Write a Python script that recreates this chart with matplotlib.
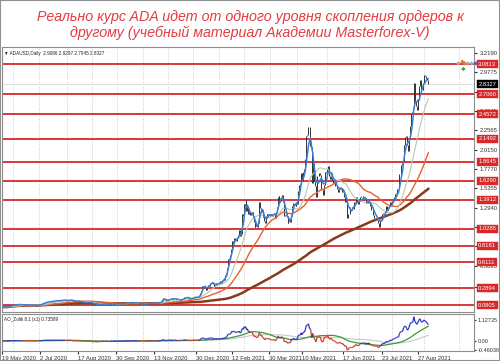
import numpy as np
import pandas as pd
import matplotlib
matplotlib.use("Agg")
import matplotlib.pyplot as plt
import matplotlib.dates as mdates
import matplotlib.transforms as mtransforms
from matplotlib.collections import LineCollection
from matplotlib.patches import Rectangle

# ADAUSD daily closes, one list per month
may_2020 = [0.056, 0.055, 0.053, 0.055, 0.056, 0.055, 0.058, 0.062, 0.068, 0.073, 0.076, 0.079, 0.077]
jun_2020 = [0.083, 0.079, 0.082, 0.086, 0.087, 0.088, 0.088, 0.087, 0.086, 0.087,
            0.078, 0.080, 0.080, 0.078, 0.081, 0.083, 0.083, 0.082, 0.081, 0.081,
            0.080, 0.084, 0.082, 0.078, 0.077, 0.076, 0.074, 0.075, 0.076, 0.077]
jul_2020 = [0.081, 0.093, 0.095, 0.098, 0.097, 0.103, 0.110, 0.117, 0.115, 0.118,
            0.116, 0.118, 0.120, 0.130, 0.128, 0.122, 0.124, 0.133, 0.135, 0.133,
            0.134, 0.137, 0.133, 0.135, 0.136, 0.134, 0.135, 0.140, 0.141, 0.140, 0.145]
aug_2020 = [0.147, 0.132, 0.136, 0.133, 0.141, 0.148, 0.140, 0.144, 0.140, 0.138,
            0.125, 0.126, 0.127, 0.129, 0.127, 0.129, 0.131, 0.125, 0.119, 0.124,
            0.115, 0.118, 0.115, 0.116, 0.113, 0.114, 0.111, 0.113, 0.114, 0.116, 0.114]
sep_2020 = [0.118, 0.104, 0.088, 0.096, 0.085, 0.089, 0.086, 0.081, 0.084, 0.086,
            0.089, 0.092, 0.090, 0.095, 0.095, 0.098, 0.093, 0.094, 0.097, 0.093,
            0.084, 0.087, 0.083, 0.088, 0.090, 0.089, 0.093, 0.096, 0.098, 0.100]
oct_2020 = [0.098, 0.094, 0.095, 0.098, 0.100, 0.096, 0.097, 0.099, 0.102, 0.107,
            0.108, 0.109, 0.107, 0.106, 0.106, 0.102, 0.103, 0.105, 0.107, 0.105,
            0.108, 0.114, 0.109, 0.107, 0.106, 0.100, 0.101, 0.095, 0.095, 0.096, 0.097]
nov_2020 = [0.095, 0.090, 0.089, 0.092, 0.099, 0.105, 0.100, 0.105, 0.104, 0.104,
            0.105, 0.105, 0.106, 0.102, 0.101, 0.104, 0.106, 0.107, 0.110, 0.114,
            0.130, 0.150, 0.166, 0.157, 0.148, 0.130, 0.137, 0.146, 0.152, 0.159]
dec_2020 = [0.155, 0.155, 0.164, 0.150, 0.160, 0.161, 0.160, 0.145, 0.147, 0.141,
            0.138, 0.147, 0.153, 0.151, 0.152, 0.162, 0.177, 0.180, 0.179, 0.172,
            0.162, 0.168, 0.148, 0.160, 0.168, 0.174, 0.172, 0.183, 0.179, 0.180, 0.181]
jan_2021 = [0.175, 0.177, 0.205, 0.225, 0.258, 0.322, 0.320, 0.311, 0.318, 0.302,
            0.272, 0.290, 0.307, 0.335, 0.323, 0.359, 0.360, 0.370, 0.359, 0.346,
            0.303, 0.336, 0.339, 0.354, 0.343, 0.348, 0.357, 0.376, 0.355, 0.358, 0.392]
feb_2021 = [0.411, 0.394, 0.451, 0.449, 0.478, 0.545, 0.649, 0.664, 0.682, 0.702,
            0.777, 0.882, 0.849, 0.892, 0.911, 0.883, 0.880, 0.923, 0.937, 0.952,
            1.010, 0.937, 0.960, 1.110, 1.220, 1.190, 1.340, 1.320]
mar_2021 = [1.390, 1.250, 1.320, 1.220, 1.240, 1.200, 1.200, 1.230, 1.240, 1.170,
            1.110, 1.050, 1.100, 1.060, 1.050, 1.100, 1.160, 1.370, 1.290, 1.240,
            1.270, 1.180, 1.190, 1.130, 1.100, 1.190, 1.210, 1.190, 1.210, 1.220, 1.190]
apr_2021 = [1.190, 1.210, 1.190, 1.210, 1.230, 1.230, 1.160, 1.240, 1.300, 1.420,
            1.440, 1.360, 1.380, 1.420, 1.450, 1.390, 1.370, 1.190, 1.200, 1.220,
            1.190, 1.100, 1.130, 1.140, 1.110, 1.190, 1.310, 1.310, 1.350, 1.350]
may_2021 = [1.330, 1.320, 1.360, 1.340, 1.500, 1.580, 1.580, 1.590, 1.720, 1.620,
            1.740, 1.780, 1.900, 2.180, 2.200, 2.300, 2.060, 2.050, 1.600, 1.850,
            1.620, 1.560, 1.420, 1.690, 1.690, 1.720, 1.700, 1.510, 1.450, 1.570, 1.740]
jun_2021 = [1.730, 1.780, 1.810, 1.690, 1.650, 1.720, 1.640, 1.600, 1.610, 1.560,
            1.520, 1.490, 1.530, 1.550, 1.540, 1.490, 1.500, 1.420, 1.370, 1.390,
            1.160, 1.220, 1.300, 1.300, 1.280, 1.280, 1.360, 1.350, 1.420, 1.370]
jul_2021 = [1.340, 1.380, 1.420, 1.440, 1.410, 1.420, 1.410, 1.350, 1.380, 1.350,
            1.370, 1.320, 1.270, 1.260, 1.200, 1.170, 1.170, 1.170, 1.100, 1.050,
            1.140, 1.150, 1.210, 1.230, 1.210, 1.250, 1.310, 1.270, 1.300, 1.310, 1.370]
aug_2021 = [1.330, 1.380, 1.400, 1.430, 1.460, 1.480, 1.520, 1.520, 1.710, 1.820,
            1.850, 1.860, 2.070, 2.170, 2.180, 2.070, 2.000, 2.150, 2.310, 2.460,
            2.480, 2.540, 2.840, 2.620, 2.560, 2.510, 2.640, 2.810, 2.880, 2.760, 2.760]
sep_2021 = [2.850, 2.940, 2.930, 2.910, 2.880, 2.8327]

# horizontal order-cluster levels (red) and the price scale labels
levels = [3.0813, 2.7060, 2.4572, 2.1492, 1.8645, 1.6290, 1.3912,
          1.0285, 0.8181, 0.6111, 0.2894, 0.0805]
price_ticks = [3.2190, 2.9775, 2.7360, 2.4945, 2.2565, 2.0150, 1.7770,
               1.5355, 1.2940, 1.0525, 0.8110, 0.5695, 0.3115]
last_price = 2.8327
osc_ticks = [1.12735, 0.0, -0.46036]
osc_labels = ["1.12735", "0.00", "-0.46036"]
date_ticks = ["2020-05-19", "2020-07-02", "2020-08-17", "2020-09-30", "2020-11-13",
              "2020-12-30", "2021-02-12", "2021-03-30", "2021-05-10", "2021-06-17",
              "2021-07-23", "2021-08-27"]
date_labels = ["19 May 2020", "2 Jul 2020", "17 Aug 2020", "30 Sep 2020", "13 Nov 2020",
               "30 Dec 2020", "12 Feb 2021", "30 Mar 2021", "10 May 2021", "17 Jun 2021",
               "23 Jul 2021", "27 Aug 2021"]

# small chart objects drawn in the empty space right of the last bar
obj_dates = ["2021-10-05", "2021-10-09", "2021-10-11", "2021-10-10", "2021-10-14",
             "2021-10-18", "2021-10-22"]
obj_prices = [3.09, 3.11, 3.09, 3.02, 3.09, 3.09, 3.09]
obj_colors = ["#a8a8a8", "#f07020", "#f07020", "#30b030", "#a8a8a8", "#a8a8a8", "#3070d0"]

month_starts = ["2020-05-19", "2020-06-01", "2020-07-01", "2020-08-01", "2020-09-01",
                "2020-10-01", "2020-11-01", "2020-12-01", "2021-01-01", "2021-02-01",
                "2021-03-01", "2021-04-01", "2021-05-01", "2021-06-01", "2021-07-01",
                "2021-08-01", "2021-09-01"]
month_lists = [may_2020, jun_2020, jul_2020, aug_2020, sep_2020, oct_2020, nov_2020,
               dec_2020, jan_2021, feb_2021, mar_2021, apr_2021, may_2021, jun_2021,
               jul_2021, aug_2021, sep_2021]

parts = [pd.Series(v, index=pd.date_range(s, periods=len(v), freq="D"))
         for s, v in zip(month_starts, month_lists)]
close = pd.concat(parts)
opens = close.shift(1).fillna(close.iloc[0])

# indicators, computed from the closes like the terminal does
ma_fast = close.rolling(5, min_periods=1).mean()
ma_21 = close.rolling(21, min_periods=1).mean()
ma_50 = close.rolling(50, min_periods=1).mean()
ma_200 = close.rolling(200, min_periods=1).mean()
osc = close - ma_50
osc_sig = osc.rolling(34, min_periods=1).mean()
osc_slow = osc.rolling(70, min_periods=1).mean()

# the terminal puts a fixed number of bars between date labels, so the time axis
# is not linear in calendar days: map it through the label positions (pixels)
W, H = 500, 361
AX_L, AX_R = 2, 474
label_px = [2, 40, 78, 116, 154, 196, 232, 269, 302, 343, 382, 418]
tick_num = mdates.date2num(pd.to_datetime(date_ticks).to_pydatetime())
anchor_num = np.r_[tick_num[0] - 44, tick_num, tick_num[-1] + 126]
anchor_px = np.r_[label_px[0] - 38, label_px, label_px[-1] + 130]


def fwd(v):
    return np.interp(v, anchor_num, anchor_px)


def inv(p):
    return np.interp(p, anchor_px, anchor_num)


grid_px = [13, 39, 67, 92, 117, 143, 168, 193, 219, 244, 270, 297, 327, 359, 392, 424, 459]

RED = "#d8282a"
SMALL = dict(family="Liberation Sans", fontsize=4.2)
fig = plt.figure(figsize=(W / 100, H / 100), dpi=100)
ax = fig.add_axes([AX_L / W, 49 / H, (AX_R - AX_L) / W, 265 / H])
ax2 = fig.add_axes([AX_L / W, 10 / H, (AX_R - AX_L) / W, 37 / H])
for a in (ax, ax2):
    a.set_xscale("function", functions=(fwd, inv))
    a.set_xlim(inv(AX_L), inv(AX_R))
    for gp in grid_px:
        a.axvline(inv(gp), color="#b8b8b8", ls=(0, (1, 2)), lw=0.6, zorder=1)

fig.text(0.5, 1 - 17 / H, "Реально курс ADA идет от одного уровня скопления ордеров к",
         ha="center", va="center", color="#e43c40", fontsize=10.3,
         style="italic", family="Liberation Sans")
fig.text(0.5, 1 - 33 / H, "другому (учебный материал Академии Masterforex-V)",
         ha="center", va="center", color="#e43c40", fontsize=10.3,
         style="italic", family="Liberation Sans")

x = mdates.date2num(close.index.to_pydatetime())

# price panel
ax.axhline(last_price, color="#d8d8d8", lw=0.6, zorder=1)
ax.vlines(x, np.minimum(opens, close), np.maximum(opens, close), color="#333333", lw=0.7, zorder=3)
ax.plot(x, ma_200, color="#8a3a1c", lw=1.8, zorder=4)
ax.plot(x, ma_50, color="#e9602e", lw=1.0, zorder=4)
ax.plot(x, ma_21, color="#b4c8b4", lw=0.8, zorder=4)
ax.plot(x, ma_fast, color="#3c7fd0", lw=1.1, zorder=5)
for lv in levels:
    ax.axhline(lv, color=RED, lw=1.3, zorder=2)
obj_x = mdates.date2num(pd.to_datetime(obj_dates).to_pydatetime())
ax.scatter(obj_x, obj_prices, s=5, c=obj_colors, marker="D", lw=0, zorder=6, clip_on=False)
ax.set_ylim(-0.006, 3.294)

ax.yaxis.tick_right()
ax.set_yticks(price_ticks)
ax.set_yticklabels([f"{v:.4f}" for v in price_ticks], **SMALL)
ax.tick_params(axis="y", length=2, pad=2, colors="#333333")
ax.tick_params(axis="x", bottom=False, labelbottom=False)

trans = mtransforms.blended_transform_factory(ax.transAxes, ax.transData)
for lv in levels:
    ax.text(1.009, lv, f"{lv:.4f}", transform=trans, ha="left", va="center",
            color="white", zorder=10, clip_on=False,
            bbox=dict(boxstyle="square,pad=0.25", fc=RED, ec=RED, lw=0.3), **SMALL)
ax.text(1.009, last_price, f"{last_price:.4f}", transform=trans, ha="left", va="center",
        color="white", zorder=10, clip_on=False,
        bbox=dict(boxstyle="square,pad=0.25", fc="black", ec="black", lw=0.3), **SMALL)

ax.text(0.004, 0.985, "\u25bc ADAUSD,Daily  2.9086 2.9297 2.7945 2.8327", transform=ax.transAxes,
        ha="left", va="top", color="#222222", family=["Liberation Sans", "DejaVu Sans"],
        fontsize=3.3)

# oscillator panel, main line blue above its signal and red below
pts = np.column_stack([x, osc.values])
segs = np.stack([pts[:-1], pts[1:]], axis=1)
seg_colors = np.where(osc.values[1:] >= osc_sig.values[1:], "#2b34c8", "#d23a22")
ax2.add_collection(LineCollection(segs, colors=seg_colors, lw=0.9, zorder=4))
ax2.plot(x, osc_slow, color="#c8c8c8", lw=0.8, zorder=3)
ax2.plot(x, osc_sig, color="#3a9a3a", lw=0.9, zorder=3)
ax2.set_ylim(-0.53, 1.42)
ax2.yaxis.tick_right()
ax2.set_yticks(osc_ticks)
ax2.set_yticklabels(osc_labels, family="Liberation Sans", fontsize=4.0)
ax2.tick_params(axis="y", length=1.5, pad=1, colors="#333333")
ax2.set_xticks(tick_num)
ax2.set_xticklabels(date_labels, ha="left", **SMALL)
ax2.tick_params(axis="x", length=2, pad=1.5, colors="#333333")
ax2.text(0.004, 0.93, "AO_Zolik 8.1 (x1) 0.73589", transform=ax2.transAxes,
         ha="left", va="top", color="#222222", family="Liberation Sans", fontsize=3.3)

for a in (ax, ax2):
    for sp in a.spines.values():
        sp.set_color("#8c8c8c")
        sp.set_linewidth(0.8)

fig.patches.append(Rectangle((0, 0), 1, 1, transform=fig.transFigure, fill=False,
                             ec="#909090", lw=1.5))
fig.savefig("out.png", dpi=100)
